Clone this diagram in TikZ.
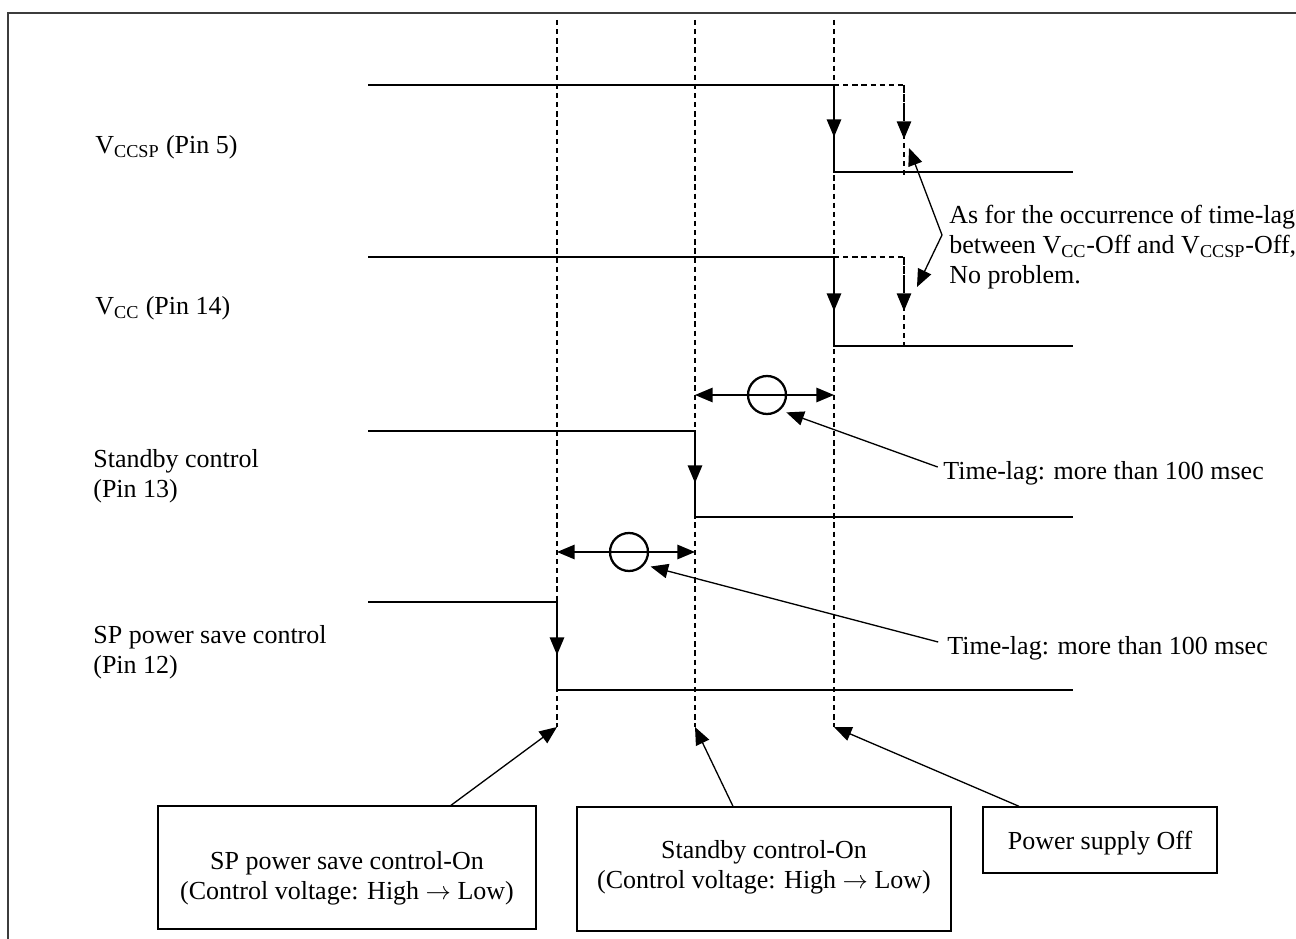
\documentclass[tikz,border=0pt]{standalone}
\usepackage{fontspec}
\setmainfont{Liberation Serif}
\usetikzlibrary{arrows.meta,calc,positioning}
\definecolor{ink}{HTML}{000000}
\definecolor{rule}{HTML}{3C3C3C}
\tikzset{
  txt/.style={font=\fontsize{14.8pt}{17pt}\selectfont,text=ink,inner sep=0pt,align=left,anchor=west},
  sig/.style={draw=ink,line width=0.85pt},
  guide/.style={draw=ink,line width=0.7pt,dash pattern=on 3pt off 2.2pt},
  drop/.style={-{Triangle[length=10pt,width=8.2pt]}},
  lead/.style={-{Triangle[length=10pt,width=8.2pt]},draw=ink,line width=0.75pt},
  span/.style={{Triangle[length=10pt,width=8.2pt]}-{Triangle[length=10pt,width=8.2pt]},draw=ink,line width=0.85pt},
  ring/.style={circle,draw=ink,line width=1.3pt,minimum size=0.76cm,inner sep=0pt,outer sep=4pt},
  evbox/.style={draw=ink,line width=0.8pt,fill=white},
  evtxt/.style={font=\fontsize{14.8pt}{17pt}\selectfont,text=ink,align=center,inner sep=0pt}
}

\begin{document}
\begin{tikzpicture}[x=0.02cm,y=-0.02cm]
  \useasboundingbox (0,0) rectangle (1296,939);
  \draw[rule,line width=1.1pt] (8,939) -- (8,13) -- (1296,13);

  % event guides
  \foreach \g/\x in {g1/557,g2/695,g3/834}{
    \coordinate (\g t) at (\x,20);
    \coordinate (\g b) at (\x,727);
    \draw[guide] (\g t) -- (\g b);
  }

  % signals: high level, low level, edge, arrow tip
  \draw[sig] (368,85) -| (834,172) -- (1073,172);
  \draw[sig,drop] (834,85) -- (834,137);
  \draw[guide] (834,85) -| (904,175);
  \draw[guide,drop] (904,85) -- (904,139);

  \draw[sig] (368,257) -| (834,346) -- (1073,346);
  \draw[sig,drop] (834,257) -- (834,311);
  \draw[guide] (834,257) -| (904,347);
  \draw[guide,drop] (904,257) -- (904,311);

  \draw[sig] (368,431) -| (695,517) -- (1073,517);
  \draw[sig,drop] (695,431) -- (695,483);

  \draw[sig] (368,602) -| (557,690) -- (1073,690);
  \draw[sig,drop] (557,602) -- (557,655);

  \node[txt] (lsp5) at (95,147) {V\textsubscript{CCSP} (Pin 5)};
  \node[txt] (lcc14) at (95,308) {V\textsubscript{CC} (Pin 14)};
  \node[txt] (lstb) at (93,476) {Standby control\\(Pin 13)};
  \node[txt] (lsps) at (93,652) {SP power save control\\(Pin 12)};

  % time-lags
  \node[ring] (c1) at (767,395) {};
  \node[ring] (c2) at (629,552) {};
  \draw[span] (g2t |- c1) -- (g3t |- c1);
  \draw[span] (g1t |- c2) -- (g2t |- c2);
  \node[txt] (lag1) at (943,473) {Time-lag: more than 100 msec};
  \node[txt] (lag2) at (947,648) {Time-lag: more than 100 msec};
  \draw[lead] ([xshift=-3pt,yshift=3.4pt]lag1.west) -- (c1.-42);
  \draw[lead] ([xshift=-5pt,yshift=3.4pt]lag2.west) -- (c2.-34);

  \node[txt] (note) at (949,247) {As for the occurrence of time-lag\\between V\textsubscript{CC}-Off and V\textsubscript{CCSP}-Off,\\No problem.};
  \coordinate (nv) at ($(note.west)+(-7,-12)$);
  \coordinate (na) at (909,148);
  \coordinate (nb) at (917,287);
  \draw[span,line width=0.75pt] (na) -- (nv) -- (nb);

  % events
  \node[evbox,minimum width=7.56cm,minimum height=2.46cm] (b1) at (347,867.5) {};
  \node[evtxt] (b1t) at (347,878) {SP power save control-On\\(Control voltage: High $\rightarrow$ Low)};
  \node[evbox,minimum width=7.48cm,minimum height=2.48cm] (b2) at (764,869) {};
  \node[evtxt] (b2t) at (764,867.5) {Standby control-On\\(Control voltage: High $\rightarrow$ Low)};
  \node[evbox,minimum width=4.68cm,minimum height=1.32cm] (b3) at (1100,840) {};
  \node[evtxt] (b3t) at (1100,843) {Power supply Off};
  \draw[lead] ($(b1.north)+(104,0)$) -- (g1b);
  \draw[lead] ($(b2.north)+(-31,0)$) -- (g2b);
  \draw[lead] ($(b3.north)+(-81,0)$) -- (g3b);
\end{tikzpicture}
\end{document}
